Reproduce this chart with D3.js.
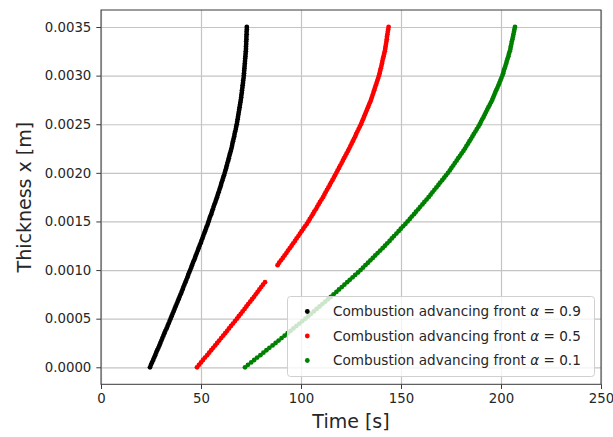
<!DOCTYPE html>
<html>
<head>
<meta charset="utf-8">
<script src="https://cdn.jsdelivr.net/npm/d3@7/dist/d3.min.js"></script>
<style>
  html, body { margin: 0; padding: 0; background: #ffffff; }
  svg { display: block; }
  text { font-family: "DejaVu Sans", sans-serif; }
</style>
</head>
<body>
<svg id="chart" width="613" height="437"></svg>
<script>
// ---------------- DATA ----------------
const xTicks = [0, 50, 100, 150, 200, 250];
const yTicks = [0, 0.0005, 0.001, 0.0015, 0.002, 0.0025, 0.003, 0.0035];
const xDomain = [0, 250];
const yDomain = [-0.000175, 0.003675];

const seriesNames = [
  "Combustion advancing front α = 0.9",
  "Combustion advancing front α = 0.5",
  "Combustion advancing front α = 0.1"
];
const seriesAlpha = ["0.9", "0.5", "0.1"];
const seriesColors = ["#000000", "#ff0000", "#008000"];

// thickness x [m]
const thickness = [
  0, 0.000025, 0.00005, 0.000075, 0.0001, 0.000125, 0.00015, 0.000175, 0.0002, 0.000225,
  0.00025, 0.000275, 0.0003, 0.000325, 0.00035, 0.000375, 0.0004, 0.000425, 0.00045, 0.000475,
  0.0005, 0.000525, 0.00055, 0.000575, 0.0006, 0.000625, 0.00065, 0.000675, 0.0007, 0.000725,
  0.00075, 0.000775, 0.0008, 0.000825, 0.00085, 0.000875, 0.0009, 0.000925, 0.00095, 0.000975,
  0.001, 0.001025, 0.00105, 0.001075, 0.0011, 0.001125, 0.00115, 0.001175, 0.0012, 0.001225,
  0.00125, 0.001275, 0.0013, 0.001325, 0.00135, 0.001375, 0.0014, 0.001425, 0.00145, 0.001475,
  0.0015, 0.001525, 0.00155, 0.001575, 0.0016, 0.001625, 0.00165, 0.001675, 0.0017, 0.001725,
  0.00175, 0.001775, 0.0018, 0.001825, 0.00185, 0.001875, 0.0019, 0.001925, 0.00195, 0.001975,
  0.002, 0.002025, 0.00205, 0.002075, 0.0021, 0.002125, 0.00215, 0.002175, 0.0022, 0.002225,
  0.00225, 0.002275, 0.0023, 0.002325, 0.00235, 0.002375, 0.0024, 0.002425, 0.00245, 0.002475,
  0.0025, 0.002525, 0.00255, 0.002575, 0.0026, 0.002625, 0.00265, 0.002675, 0.0027, 0.002725,
  0.00275, 0.002775, 0.0028, 0.002825, 0.00285, 0.002875, 0.0029, 0.002925, 0.00295, 0.002975,
  0.003, 0.003025, 0.00305, 0.003075, 0.0031, 0.003125, 0.00315, 0.003175, 0.0032, 0.003225,
  0.00325, 0.003275, 0.0033, 0.003325, 0.00335, 0.003375, 0.0034, 0.003425, 0.00345, 0.003475,
  0.0035
];

// time [s] for alpha = 0.9
const timeAlpha09 = [
  24.5, 25.0, 25.5, 26.1, 26.6, 27.1, 27.6, 28.1, 28.7, 29.2,
  29.7, 30.2, 30.7, 31.2, 31.7, 32.2, 32.8, 33.3, 33.8, 34.3,
  34.8, 35.3, 35.8, 36.3, 36.8, 37.3, 37.8, 38.3, 38.8, 39.3,
  39.8, 40.3, 40.8, 41.2, 41.7, 42.2, 42.7, 43.2, 43.6, 44.1,
  44.6, 45.1, 45.5, 46.0, 46.5, 47.0, 47.4, 47.9, 48.4, 48.8,
  49.3, 49.8, 50.2, 50.7, 51.1, 51.6, 52.0, 52.5, 52.9, 53.4,
  53.8, 54.2, 54.6, 55.1, 55.5, 55.9, 56.3, 56.7, 57.2, 57.6,
  58.0, 58.4, 58.8, 59.2, 59.6, 60.0, 60.3, 60.7, 61.1, 61.5,
  61.9, 62.2, 62.6, 62.9, 63.2, 63.6, 63.9, 64.2, 64.5, 64.9,
  65.2, 65.5, 65.7, 66.0, 66.3, 66.6, 66.8, 67.1, 67.4, 67.6,
  67.9, 68.1, 68.3, 68.5, 68.7, 68.9, 69.1, 69.3, 69.5, 69.7,
  69.9, 70.1, 70.2, 70.4, 70.5, 70.7, 70.8, 71.0, 71.1, 71.3,
  71.4, 71.5, 71.6, 71.7, 71.8, 71.9, 72.0, 72.1, 72.2, 72.3,
  72.4, 72.5, 72.5, 72.6, 72.6, 72.7, 72.7, 72.8, 72.8, 72.9,
  72.9
];

// time [s] for alpha = 0.5 (null = no point recorded)
const timeAlpha05 = [
  48.0, 49.0, 50.0, 51.0, 52.0, 53.1, 54.1, 55.1, 56.1, 57.1,
  58.1, 59.1, 60.1, 61.1, 62.1, 63.1, 64.0, 65.0, 66.0, 67.0,
  68.0, 68.9, 69.9, 70.8, 71.8, 72.7, 73.6, 74.6, 75.5, 76.5,
  77.4, 78.3, 79.2, 80.1, 81.0, 82.0, null, null, null, null,
  null, null, 88.3, 89.1, 90.0, 90.9, 91.8, 92.7, 93.5, 94.4,
  95.3, 96.1, 97.0, 97.8, 98.7, 99.5, 100.3, 101.2, 102.0, 102.9,
  103.7, 104.4, 105.2, 105.9, 106.6, 107.4, 108.1, 108.8, 109.5, 110.3,
  111.0, 111.7, 112.3, 113.0, 113.7, 114.4, 115.0, 115.7, 116.4, 117.0,
  117.7, 118.3, 119.0, 119.6, 120.3, 120.9, 121.5, 122.2, 122.8, 123.5,
  124.1, 124.7, 125.3, 125.9, 126.5, 127.1, 127.6, 128.2, 128.8, 129.4,
  130.0, 130.5, 131.0, 131.5, 132.0, 132.5, 133.0, 133.5, 134.0, 134.5,
  135.0, 135.4, 135.8, 136.2, 136.6, 137.0, 137.4, 137.8, 138.2, 138.6,
  139.0, 139.3, 139.6, 139.9, 140.2, 140.5, 140.7, 141.0, 141.3, 141.6,
  141.9, 142.1, 142.3, 142.5, 142.7, 142.9, 143.0, 143.2, 143.4, 143.6,
  143.8
];

// time [s] for alpha = 0.1
const timeAlpha01 = [
  72.0, 73.5, 75.1, 76.6, 78.1, 79.7, 81.2, 82.7, 84.2, 85.8,
  87.3, 88.8, 90.3, 91.8, 93.3, 94.8, 96.2, 97.7, 99.2, 100.7,
  102.2, 103.6, 105.0, 106.4, 107.8, 109.3, 110.7, 112.1, 113.5, 114.9,
  116.3, 117.7, 119.0, 120.4, 121.7, 123.1, 124.4, 125.8, 127.1, 128.5,
  129.8, 131.0, 132.2, 133.5, 134.7, 135.9, 137.1, 138.3, 139.6, 140.8,
  142.0, 143.1, 144.3, 145.4, 146.5, 147.7, 148.8, 149.9, 151.0, 152.2,
  153.3, 154.4, 155.4, 156.5, 157.5, 158.6, 159.6, 160.7, 161.7, 162.8,
  163.8, 164.8, 165.7, 166.7, 167.7, 168.7, 169.6, 170.6, 171.6, 172.5,
  173.5, 174.4, 175.2, 176.1, 176.9, 177.8, 178.6, 179.5, 180.3, 181.2,
  182.0, 182.7, 183.5, 184.2, 185.0, 185.7, 186.4, 187.2, 187.9, 188.7,
  189.4, 190.0, 190.6, 191.3, 191.9, 192.5, 193.1, 193.7, 194.4, 195.0,
  195.6, 196.1, 196.6, 197.1, 197.6, 198.2, 198.7, 199.2, 199.7, 200.2,
  200.7, 201.1, 201.4, 201.8, 202.2, 202.6, 202.9, 203.3, 203.7, 204.0,
  204.4, 204.7, 204.9, 205.2, 205.4, 205.7, 206.0, 206.2, 206.5, 206.7,
  207.0
];

const seriesTimes = [timeAlpha09, timeAlpha05, timeAlpha01];

// ---------------- CHART ----------------
const svg = d3.select("#chart");
const plot = { left: 101, right: 601, top: 10, bottom: 384.3 };
const fontTick = 13.3;
const fontLabel = 19;

const x = d3.scaleLinear().domain(xDomain).range([plot.left, plot.right]);
const y = d3.scaleLinear().domain(yDomain).range([plot.bottom, plot.top]);

// grid
const gridX = svg.append("g")
  .attr("transform", `translate(0,${plot.bottom})`)
  .call(d3.axisBottom(x).tickValues(xTicks).tickSize(-(plot.bottom - plot.top)).tickFormat(""));
const gridY = svg.append("g")
  .attr("transform", `translate(${plot.left},0)`)
  .call(d3.axisLeft(y).tickValues(yTicks).tickSize(-(plot.right - plot.left)).tickFormat(""));
[gridX, gridY].forEach(g => {
  g.select(".domain").remove();
  g.selectAll("line").attr("stroke", "#c4c4c4").attr("stroke-width", 1.2);
});

// points
const dots = svg.append("g");
seriesTimes.forEach((times, si) => {
  const pts = thickness.map((d, i) => ({ t: times[i], h: d })).filter(p => p.t !== null);
  dots.append("g").selectAll("circle")
    .data(pts)
    .join("circle")
    .attr("cx", p => x(p.t))
    .attr("cy", p => y(p.h))
    .attr("r", 2.4)
    .attr("fill", seriesColors[si]);
});

// frame
svg.append("rect")
  .attr("x", plot.left).attr("y", plot.top)
  .attr("width", plot.right - plot.left).attr("height", plot.bottom - plot.top)
  .attr("fill", "none").attr("stroke", "#3a3a3a").attr("stroke-width", 1);

// axes
const axX = svg.append("g")
  .attr("transform", `translate(0,${plot.bottom})`)
  .call(d3.axisBottom(x).tickValues(xTicks).tickSize(4.7).tickPadding(5).tickFormat(d3.format("d")));
const axY = svg.append("g")
  .attr("transform", `translate(${plot.left},0)`)
  .call(d3.axisLeft(y).tickValues(yTicks).tickSize(4.7).tickPadding(5).tickFormat(d3.format(".4f")));
[axX, axY].forEach(g => {
  g.select(".domain").remove();
  g.selectAll("line").attr("stroke", "#3a3a3a").attr("stroke-width", 1);
  g.selectAll("text")
    .attr("fill", "#262626")
    .style("font-family", "'DejaVu Sans', sans-serif")
    .style("font-size", fontTick + "px");
});

// axis labels
svg.append("text")
  .attr("x", (plot.left + plot.right) / 2)
  .attr("y", 428)
  .attr("text-anchor", "middle")
  .attr("fill", "#262626")
  .style("font-size", fontLabel + "px")
  .text("Time [s]");
svg.append("text")
  .attr("transform", `translate(31,${(plot.top + plot.bottom) / 2}) rotate(-90)`)
  .attr("text-anchor", "middle")
  .attr("fill", "#262626")
  .style("font-size", fontLabel + "px")
  .text("Thickness x [m]");

// legend
const legend = svg.append("g");
legend.append("rect")
  .attr("x", 287.5).attr("y", 296.5)
  .attr("width", 307).attr("height", 80)
  .attr("rx", 3).attr("ry", 3)
  .attr("fill", "#ffffff").attr("fill-opacity", 0.8)
  .attr("stroke", "#d0d0d0").attr("stroke-width", 1);
const rowY = [311.5, 336, 360.5];
seriesNames.forEach((name, i) => {
  legend.append("circle")
    .attr("cx", 307.3).attr("cy", rowY[i]).attr("r", 2.4)
    .attr("fill", seriesColors[i]);
  const t = legend.append("text")
    .attr("x", 333).attr("y", rowY[i])
    .attr("dy", "0.36em")
    .attr("fill", "#262626")
    .style("font-size", "13.6px");
  t.append("tspan").text("Combustion advancing front ");
  t.append("tspan").style("font-style", "italic").text("α");
  t.append("tspan").text(" = " + seriesAlpha[i]);
});
</script>
</body>
</html>
